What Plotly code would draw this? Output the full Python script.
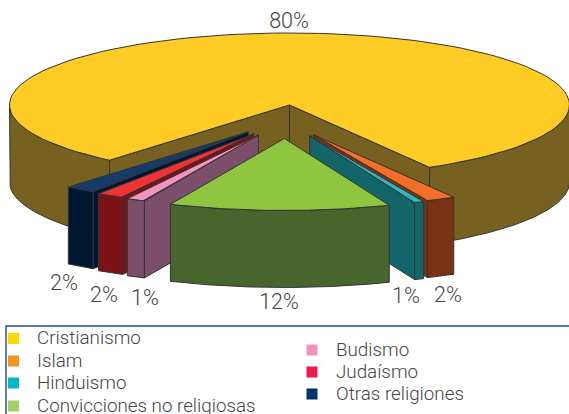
import numpy as np
import plotly.graph_objects as go

categories = ["Cristianismo", "Islam", "Hinduismo", "Convicciones no religiosas",
              "Budismo", "Judaísmo", "Otras religiones"]
values = [80, 2, 1, 12, 1, 2, 2]
# slice sizes as drawn in the picture (the printed labels are rounded by the source)
drawn_shares = [80.55, 1.67, 0.56, 12.78, 1.08, 1.6, 1.76]
top_colors = ["#FFCB25", "#F36F27", "#2DB9C2", "#8FC63F", "#F295BE", "#EF3232", "#143B69"]
wall_colors = ["#766120", "#7A3213", "#126669", "#48652E", "#7B4E69", "#7A1216", "#001731"]
legend_colors = ["#FFD800", "#F7941D", "#00B5CC", "#A3D065", "#F193BE", "#ED1C4F", "#003366"]

# style / layout of the pie in page pixels
CX, CY, RX, RY, DEPTH = 289.5, 105, 280, 72, 77
EXP_X, EXP_Y, EXP_SHIFT = 62, 33.5, -4
START = 130
EDGE = "#333333"
LABEL_POS = [(289, 23), (448, 296.5), (406, 297.5), (279, 303.5), (145, 299.5), (104, 296.5), (64, 284.5)]
LEG_ROWS = [(13.5, 338.5, 37, 339), (13.5, 361, 37, 362), (13.5, 383, 37, 384), (13.5, 406, 37, 407),
            (312, 350, 336, 351), (312, 372, 336, 373), (312, 394, 336, 395)]

fig = go.Figure()


def poly(x, y, fill):
    fig.add_trace(go.Scatter(x=list(x), y=list(y), mode="lines", fill="toself", fillcolor=fill,
                             line=dict(color=EDGE, width=1), hoverinfo="skip", showlegend=False))


def arc(cx, cy, a, b, n=120):
    t = np.radians(np.linspace(a, b, n))
    return cx + RX * np.cos(t), cy + RY * np.sin(t)


def radial_wall(cx, cy, a, fill):
    x, y = arc(cx, cy, a, a, 1)
    poly([cx, x[0], x[0], cx, cx], [cy, y[0], y[0] + DEPTH, cy + DEPTH, cy], fill)


def outer_wall(cx, cy, a, b, fill):
    x, y = arc(cx, cy, a, b)
    poly(np.r_[x, x[::-1], x[0]], np.r_[y, y[::-1] + DEPTH, y[0]], fill)


def top_face(cx, cy, a, b, fill):
    x, y = arc(cx, cy, a, b)
    poly(np.r_[cx, x, cx], np.r_[cy, y, cy], fill)


# slice angle spans from the shares
spans = []
a = START
for v in drawn_shares:
    spans.append((a, a + v * 3.6))
    a += v * 3.6

# main slice: walls, then its top
a0, a1 = spans[0]
outer_wall(CX, CY, a0, 180, wall_colors[0])
outer_wall(CX, CY, 360, a1, wall_colors[0])
radial_wall(CX, CY, a0, wall_colors[0])
radial_wall(CX, CY, a1, wall_colors[0])
top_face(CX, CY, a0, a1, top_colors[0])

# exploded slices, painted back to front
for i in [6, 5, 4, 1, 2, 3]:
    s, e = spans[i][0] - 360, spans[i][1] - 360
    mid = np.radians((s + e) / 2)
    cx = CX + EXP_X * np.cos(mid) + EXP_SHIFT
    cy = CY + EXP_Y * np.sin(mid)
    if i in (4, 5, 6):
        radial_wall(cx, cy, s, wall_colors[i])
    elif i in (1, 2):
        radial_wall(cx, cy, e, wall_colors[i])
    outer_wall(cx, cy, s, e, wall_colors[i])
    top_face(cx, cy, s, e, top_colors[i])

# value labels
fig.add_trace(go.Scatter(
    x=[p[0] for p in LABEL_POS], y=[p[1] for p in LABEL_POS],
    text=[f"{v}%" for v in values], mode="text", hoverinfo="skip", showlegend=False,
    textfont=dict(family="Roboto", size=21.5, color="#444444", weight=300)))

# legend
fig.add_shape(type="rect", x0=6, x1=600, y0=326, y1=430,
              line=dict(color="#1F5080", width=1.4), fillcolor="white", layer="below")
fig.add_trace(go.Scatter(
    x=[r[0] for r in LEG_ROWS], y=[r[1] for r in LEG_ROWS], mode="markers",
    marker=dict(symbol="square", size=11, color=legend_colors, line=dict(width=0)),
    hoverinfo="skip", showlegend=False))
fig.add_trace(go.Scatter(
    x=[r[2] for r in LEG_ROWS], y=[r[3] for r in LEG_ROWS], text=categories,
    mode="text", textposition="middle right", hoverinfo="skip", showlegend=False,
    textfont=dict(family="Roboto", size=18.8, color="#444444", weight=300)))

fig.update_layout(
    width=569, height=414, margin=dict(l=0, r=0, t=0, b=0),
    paper_bgcolor="white", plot_bgcolor="white", showlegend=False,
    xaxis=dict(range=[0, 569], visible=False, fixedrange=True),
    yaxis=dict(range=[414, 0], visible=False, fixedrange=True),
)
fig.write_html("out.html", config=dict(displayModeBar=False),
               post_script="document.body.style.margin='0';")
